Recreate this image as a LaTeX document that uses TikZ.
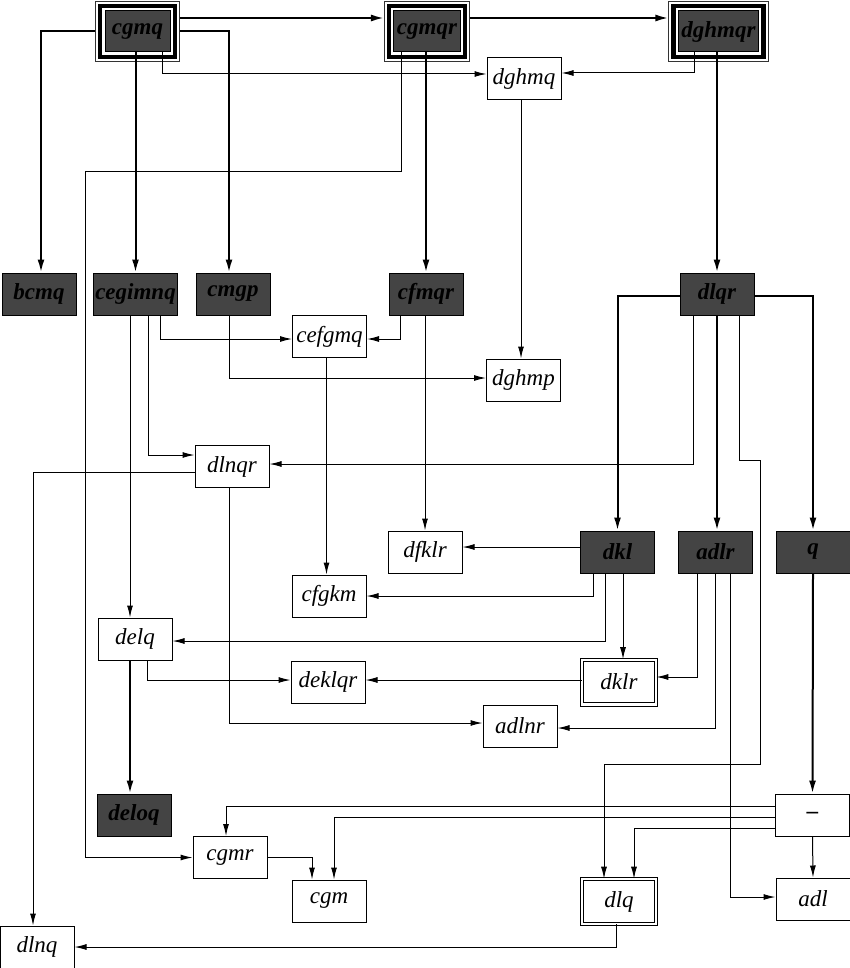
\documentclass[tikz,border=0pt]{standalone}
\usepackage{fontspec}
\setmainfont{Liberation Serif}
\usepackage{tikz}
\usetikzlibrary{arrows.meta,fit}
\definecolor{setgray}{RGB}{68,68,68}
\tikzset{
  plainset/.style={draw,line width=0.5pt,fill=white,minimum width=37pt,minimum height=21pt,inner sep=1pt,font=\fontsize{11.5}{13}\selectfont\itshape},
  freqset/.style={plainset,fill=setgray,font=\fontsize{11.5}{13}\selectfont\bfseries\itshape},
  rootset/.style={freqset,minimum width=32.5pt,minimum height=20.5pt,inner xsep=1.5pt},
  closedset/.style={plainset,double,double distance=1.2pt,minimum width=36.8pt,minimum height=22.3pt},
  rootframe/.style={draw,line width=2.2pt,inner sep=2.25pt},
  rootring/.style={draw=black!80,line width=0.5pt,inner sep=4.5pt},
  thinlink/.style={-{Latex[length=6pt,width=3pt]},line width=0.5pt},
  thicklink/.style={-{Latex[length=6.5pt,width=3.5pt]},line width=1pt}
}

\begin{document}
\begin{tikzpicture}[x=0.5pt,y=-0.5pt]
  \useasboundingbox (0,0) rectangle (850,968);

  % roots
  \node[rootset] (cgmq) at (137.5,31.5) {cgmq};
  \node[rootset] (cgmqr) at (427,31.5) {cgmqr};
  \node[rootset] (dghmqr) at (718.5,31.5) {dghmqr};
  \foreach \n in {cgmq,cgmqr,dghmqr} {
    \node[rootframe,fit=(\n)] {};
    \node[rootring,fit=(\n)] (\n-out) {};
  }

  % frequent sets
  \node[freqset] (bcmq) at (39,294) {bcmq};
  \node[freqset] (cegimnq) at (135.5,294) {cegimnq};
  \node[freqset] (cmgp) at (233,294) {cmgp};
  \node[freqset] (cfmqr) at (426,294) {cfmqr};
  \node[freqset] (dlqr) at (717,294) {dlqr};
  \node[freqset] (dkl) at (617.5,552) {dkl};
  \node[freqset] (adlr) at (715.5,552) {adlr};
  \node[freqset] (q) at (813,552) {q};
  \node[freqset] (deloq) at (134,815) {deloq};

  % other sets
  \node[plainset] (dghmq) at (524,79) {dghmq};
  \node[plainset] (cefgmq) at (329.5,336.5) {cefgmq};
  \node[plainset] (dghmp) at (523.5,380) {dghmp};
  \node[plainset] (dlnqr) at (232,466.5) {dlnqr};
  \node[plainset] (dfklr) at (425,552) {dfklr};
  \node[plainset] (cfgkm) at (329,596) {cfgkm};
  \node[plainset] (delq) at (135,639) {delq};
  \node[plainset] (deklqr) at (328,682) {deklqr};
  \node[closedset] (dklr) at (619,682) {dklr};
  \node[plainset] (adlnr) at (520,726) {adlnr};
  \node[plainset] (empty) at (812.5,815) {\bfseries --};
  \node[plainset] (cgmr) at (230,857.5) {cgmr};
  \node[plainset] (cgm) at (329,901) {cgm};
  \node[closedset] (dlq) at (619,901.5) {dlq};
  \node[plainset] (adl) at (813,899) {adl};
  \node[plainset] (dlnq) at (37,947) {dlnq};

  % thick links
  \draw[thicklink] ([shift={(0,-13.5)}]cgmq-out.east) -- ([shift={(0,-13.5)}]cgmqr-out.west);
  \draw[thicklink] ([shift={(0,-13.5)}]cgmqr-out.east) -- ([shift={(0,-13.5)}]dghmqr-out.west);
  \draw[thicklink] (cgmq-out.west) -| ([shift={(2,0)}]bcmq.north);
  \draw[thicklink] (cgmq.south -| cegimnq.north) -- (cegimnq.north);
  \draw[thicklink] (cgmq-out.east) -| ([shift={(-4,0)}]cmgp.north);
  \draw[thicklink] (cgmqr.south -| cfmqr.north) -- (cfmqr.north);
  \draw[thicklink] (dghmqr.south -| dlqr.north) -- (dlqr.north);
  \draw[thicklink] ([shift={(0,2)}]dlqr.west) -| (dkl.north);
  \draw[thicklink] ([shift={(0,2)}]dlqr.east) -| (q.north);
  \draw[thicklink] (dlqr.south) -- (dlqr.south |- adlr.north);
  \draw[thicklink] (q.south) -- (empty.north);
  \draw[thicklink] ([shift={(-5,0)}]delq.south) -- ([shift={(-5,0)}]delq.south |- deloq.north);

  % thin links
  \draw[thinlink] ([shift={(24.5,0)}]cgmq.south) |- ([shift={(0,-5)}]dghmq.west);
  \draw[thinlink] ([shift={(-24.5,0)}]dghmqr.south) |- ([shift={(0,-6)}]dghmq.east);
  \draw[thinlink] ([shift={(-26,0)}]cgmqr.south) -- ++(0,119) -| ([shift={(-107,0)}]cgmr.west) -- (cgmr.west);
  \draw[thinlink] ([shift={(-3,0)}]dghmq.south) -- ([shift={(-3,0)}]dghmq.south |- dghmp.north);
  \draw[thinlink] ([shift={(-5.5,0)}]cegimnq.south) -- ([shift={(-5.5,0)}]cegimnq.south |- delq.north);
  \draw[thinlink] ([shift={(12.5,0)}]cegimnq.south) |- ([shift={(0,-11.5)}]dlnqr.west);
  \draw[thinlink] ([shift={(24.5,0)}]cegimnq.south) |- ([shift={(0,2.5)}]cefgmq.west);
  \draw[thinlink] ([shift={(-4,0)}]cmgp.south) |- ([shift={(0,-2)}]dghmp.west);
  \draw[thinlink] ([shift={(-26,0)}]cfmqr.south) |- ([shift={(0,2.5)}]cefgmq.east);
  \draw[thinlink] (cfmqr.south -| dfklr.north) -- (dfklr.north);
  \draw[thinlink] ([shift={(-3,0)}]cefgmq.south) -- ([shift={(-3,0)}]cefgmq.south |- cfgkm.north);
  \draw[thinlink] ([shift={(-24,0)}]dlqr.south) |- ([shift={(0,-2.5)}]dlnqr.east);
  \draw[thinlink] ([shift={(22,0)}]dlqr.south) -- ++(0,145) -- ++(21,0) -- ++(0,304) -| ([shift={(-15,0)}]dlq.north);
  \draw[thinlink] ([shift={(0,5.5)}]dlnqr.west) -| ([shift={(-4,0)}]dlnq.north);
  \draw[thinlink] ([shift={(-3,0)}]dlnqr.south) |- ([shift={(0,-3)}]adlnr.west);
  \draw[thinlink] ([shift={(0,-5)}]dkl.west) -- ([shift={(0,-5)}]dfklr.east);
  \draw[thinlink] ([shift={(-24.5,0)}]dkl.south) |- (cfgkm.east);
  \draw[thinlink] ([shift={(-12.5,0)}]dkl.south) |- ([shift={(0,2)}]delq.east);
  \draw[thinlink] ([shift={(5.5,0)}]dkl.south) -- ([shift={(5.5,0)}]dkl.south |- dklr.north);
  \draw[thinlink] ([shift={(-18.5,0)}]adlr.south) |- ([shift={(0,-5)}]dklr.east);
  \draw[thinlink] (adlr.south) |- ([shift={(0,2)}]adlnr.east);
  \draw[thinlink] ([shift={(14.5,0)}]adlr.south) |- ([shift={(0,-2)}]adl.west);
  \draw[thinlink] ([shift={(12,0)}]delq.south) |- ([shift={(0,-2)}]deklqr.west);
  \draw[thinlink] ([shift={(0,-2)}]dklr.west) -- ([shift={(0,-2)}]deklqr.east);
  \draw[thinlink] ([shift={(0,-9)}]empty.west) -| ([shift={(-4,0)}]cgmr.north);
  \draw[thinlink] ([shift={(0,2)}]empty.west) -| ([shift={(5,0)}]cgm.north);
  \draw[thinlink] ([shift={(0,13)}]empty.west) -| ([shift={(15,0)}]dlq.north);
  \draw[thinlink] (empty.south) -- (adl.north);
  \draw[thinlink] (cgmr.east) -| ([shift={(-17,0)}]cgm.north);
  \draw[thinlink] ([shift={(-3,0)}]dlq.south) |- (dlnq.east);
\end{tikzpicture}
\end{document}
